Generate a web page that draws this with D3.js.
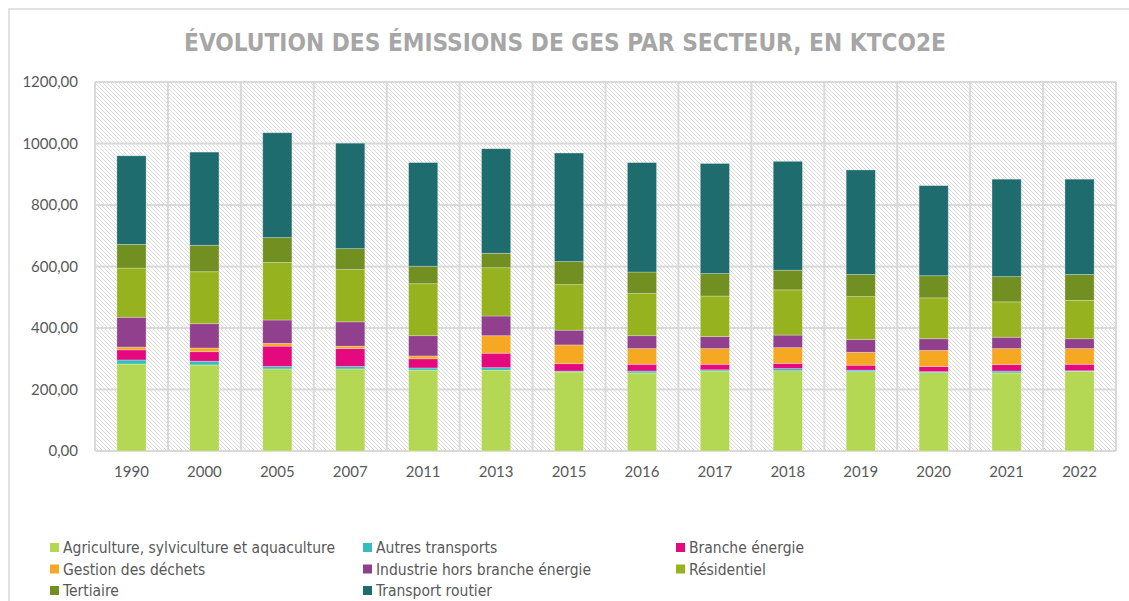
<!DOCTYPE html>
<html>
<head>
<meta charset="utf-8">
<script src="https://cdn.jsdelivr.net/npm/d3@7"></script>
<style>
  body { margin: 0; background: #fff; }
  svg { display: block; }
</style>
</head>
<body>
<svg id="chart" width="1129" height="601"></svg>
<script>
const years = ['1990', '2000', '2005', '2007', '2011', '2013', '2015', '2016', '2017', '2018', '2019', '2020', '2021', '2022'];
const agriculture = [283, 280, 267, 267, 263, 263, 257, 254, 260, 261, 258, 255, 254, 259];
const autresTransports = [13, 12, 8, 8, 7, 8, 3, 6, 4, 7, 5, 3, 6, 2];
const brancheEnergie = [33, 31, 66, 58, 30, 47, 24, 22, 18, 17, 16, 17, 21, 21];
const gestionDechets = [9, 12, 9, 8, 9, 57, 61, 51, 51, 51, 42, 52, 52, 51];
const industrie = [97, 79, 76, 79, 66, 64, 48, 42, 39, 41, 42, 38, 37, 32];
const residentiel = [160, 169, 187, 170, 169, 157, 148, 137, 132, 147, 139, 133, 115, 125];
const tertiaire = [77, 86, 81, 68, 57, 47, 75, 70, 73, 64, 72, 72, 82, 84];
const transportRoutier = [288, 303, 341, 343, 337, 340, 353, 356, 358, 354, 340, 293, 317, 310];
const yTicks = [0, 200, 400, 600, 800, 1000, 1200];

const series = [
    { name: 'Agriculture, sylviculture et aquaculture', values: agriculture, color: '#b4d754' },
    { name: 'Autres transports', values: autresTransports, color: '#36bcbf' },
    { name: 'Branche énergie', values: brancheEnergie, color: '#e5097f' },
    { name: 'Gestion des déchets', values: gestionDechets, color: '#f6a823' },
    { name: 'Industrie hors branche énergie', values: industrie, color: '#90408d' },
    { name: 'Résidentiel', values: residentiel, color: '#96b31f' },
    { name: 'Tertiaire', values: tertiaire, color: '#728f21' },
    { name: 'Transport routier', values: transportRoutier, color: '#1f6c6f' }
];

const svg = d3.select('#chart');
const plot = { left: 95, right: 1116, top: 82, bottom: 451 };

// chart frame
svg.append('rect')
    .attr('x', 9).attr('y', 9)
    .attr('width', 1140).attr('height', 610)
    .attr('fill', '#fff')
    .attr('stroke', '#d9d9d9')
    .attr('stroke-width', 1.5);

svg.append('text')
    .text('ÉVOLUTION DES ÉMISSIONS DE GES PAR SECTEUR, EN KTCO2E')
    .attr('x', 565).attr('y', 51)
    .attr('text-anchor', 'middle')
    .attr('font-family', '"Liberation Sans Narrow", "DejaVu Sans Condensed", sans-serif')
    .attr('font-weight', 'bold')
    .attr('font-size', 24.2)
    .attr('fill', '#a6a6a6');

const pattern = svg.append('defs').append('pattern')
    .attr('id', 'hatch')
    .attr('patternUnits', 'userSpaceOnUse')
    .attr('width', 4).attr('height', 4);
pattern.append('rect').attr('width', 4).attr('height', 4).attr('fill', '#fff');
pattern.append('path')
    .attr('d', 'M-1,3 l2,2 M0,0 l4,4 M3,-1 l2,2')
    .attr('stroke', '#dcdcdc')
    .attr('stroke-width', 1);

const cell = d3.scaleBand()
    .domain(years)
    .range([plot.left, plot.right]);
const x = d3.scaleBand()
    .domain(years)
    .range([plot.left, plot.right])
    .paddingInner(0.6)
    .paddingOuter(0.3);
const y = d3.scaleLinear()
    .domain([0, 1200])
    .range([plot.bottom, plot.top]);

svg.append('rect')
    .attr('x', plot.left).attr('y', plot.top)
    .attr('width', plot.right - plot.left)
    .attr('height', plot.bottom - plot.top)
    .attr('fill', 'url(#hatch)');

svg.append('g')
    .selectAll('line')
    .data(yTicks)
    .enter()
    .append('line')
    .attr('x1', plot.left).attr('x2', plot.right)
    .attr('y1', d => y(d)).attr('y2', d => y(d))
    .attr('stroke', '#d9d9d9')
    .attr('stroke-width', 2);

svg.append('g')
    .selectAll('line')
    .data(years.concat(['end']))
    .enter()
    .append('line')
    .attr('x1', d => d === 'end' ? plot.right : cell(d))
    .attr('x2', d => d === 'end' ? plot.right : cell(d))
    .attr('y1', plot.top).attr('y2', plot.bottom)
    .attr('stroke', '#d9d9d9')
    .attr('stroke-width', 2);

const table = years.map((year, i) => {
    const row = { year };
    series.forEach(s => { row[s.name] = s.values[i]; });
    return row;
});
const stacked = d3.stack().keys(series.map(s => s.name))(table);

svg.append('g')
    .selectAll('g')
    .data(stacked)
    .enter()
    .append('g')
    .attr('fill', (d, i) => series[i].color)
    .selectAll('rect')
    .data(d => d)
    .enter()
    .append('rect')
    .attr('x', d => x(d.data.year))
    .attr('width', x.bandwidth())
    .attr('y', d => y(d[1]))
    .attr('height', d => y(d[0]) - y(d[1]))
    .attr('stroke', '#fff')
    .attr('stroke-opacity', 0.35)
    .attr('stroke-width', 0.8);

const yAxis = svg.append('g')
    .attr('transform', `translate(${plot.left - 14},0)`)
    .call(d3.axisLeft(y).tickValues(yTicks).tickSize(0).tickFormat(d => d3.format('.2f')(d).replace('.', ',')));
yAxis.select('.domain').remove();
yAxis.selectAll('text')
    .attr('font-family', 'Lato, "Open Sans", sans-serif')
    .attr('font-size', 15)
    .attr('fill', '#595959');

const xAxis = svg.append('g')
    .attr('transform', `translate(0,${plot.bottom + 12})`)
    .call(d3.axisBottom(x).tickSize(0));
xAxis.select('.domain').remove();
xAxis.selectAll('text')
    .attr('font-family', 'Lato, "Open Sans", sans-serif')
    .attr('font-size', 15)
    .attr('fill', '#595959');

const legendCols = [50, 363, 676];
const legend = svg.append('g')
    .selectAll('g')
    .data(series)
    .enter()
    .append('g')
    .attr('transform', (d, i) => `translate(${legendCols[i % 3]},${548 + Math.floor(i / 3) * 21.5})`);
legend.append('rect')
    .attr('x', 0).attr('y', -5)
    .attr('width', 9).attr('height', 9)
    .attr('fill', d => d.color);
legend.append('text')
    .text(d => d.name)
    .attr('x', 13).attr('y', 5)
    .attr('font-family', '"Liberation Sans Narrow", "DejaVu Sans Condensed", sans-serif')
    .attr('font-size', 15.5)
    .attr('fill', '#595959');
</script>
</body>
</html>
